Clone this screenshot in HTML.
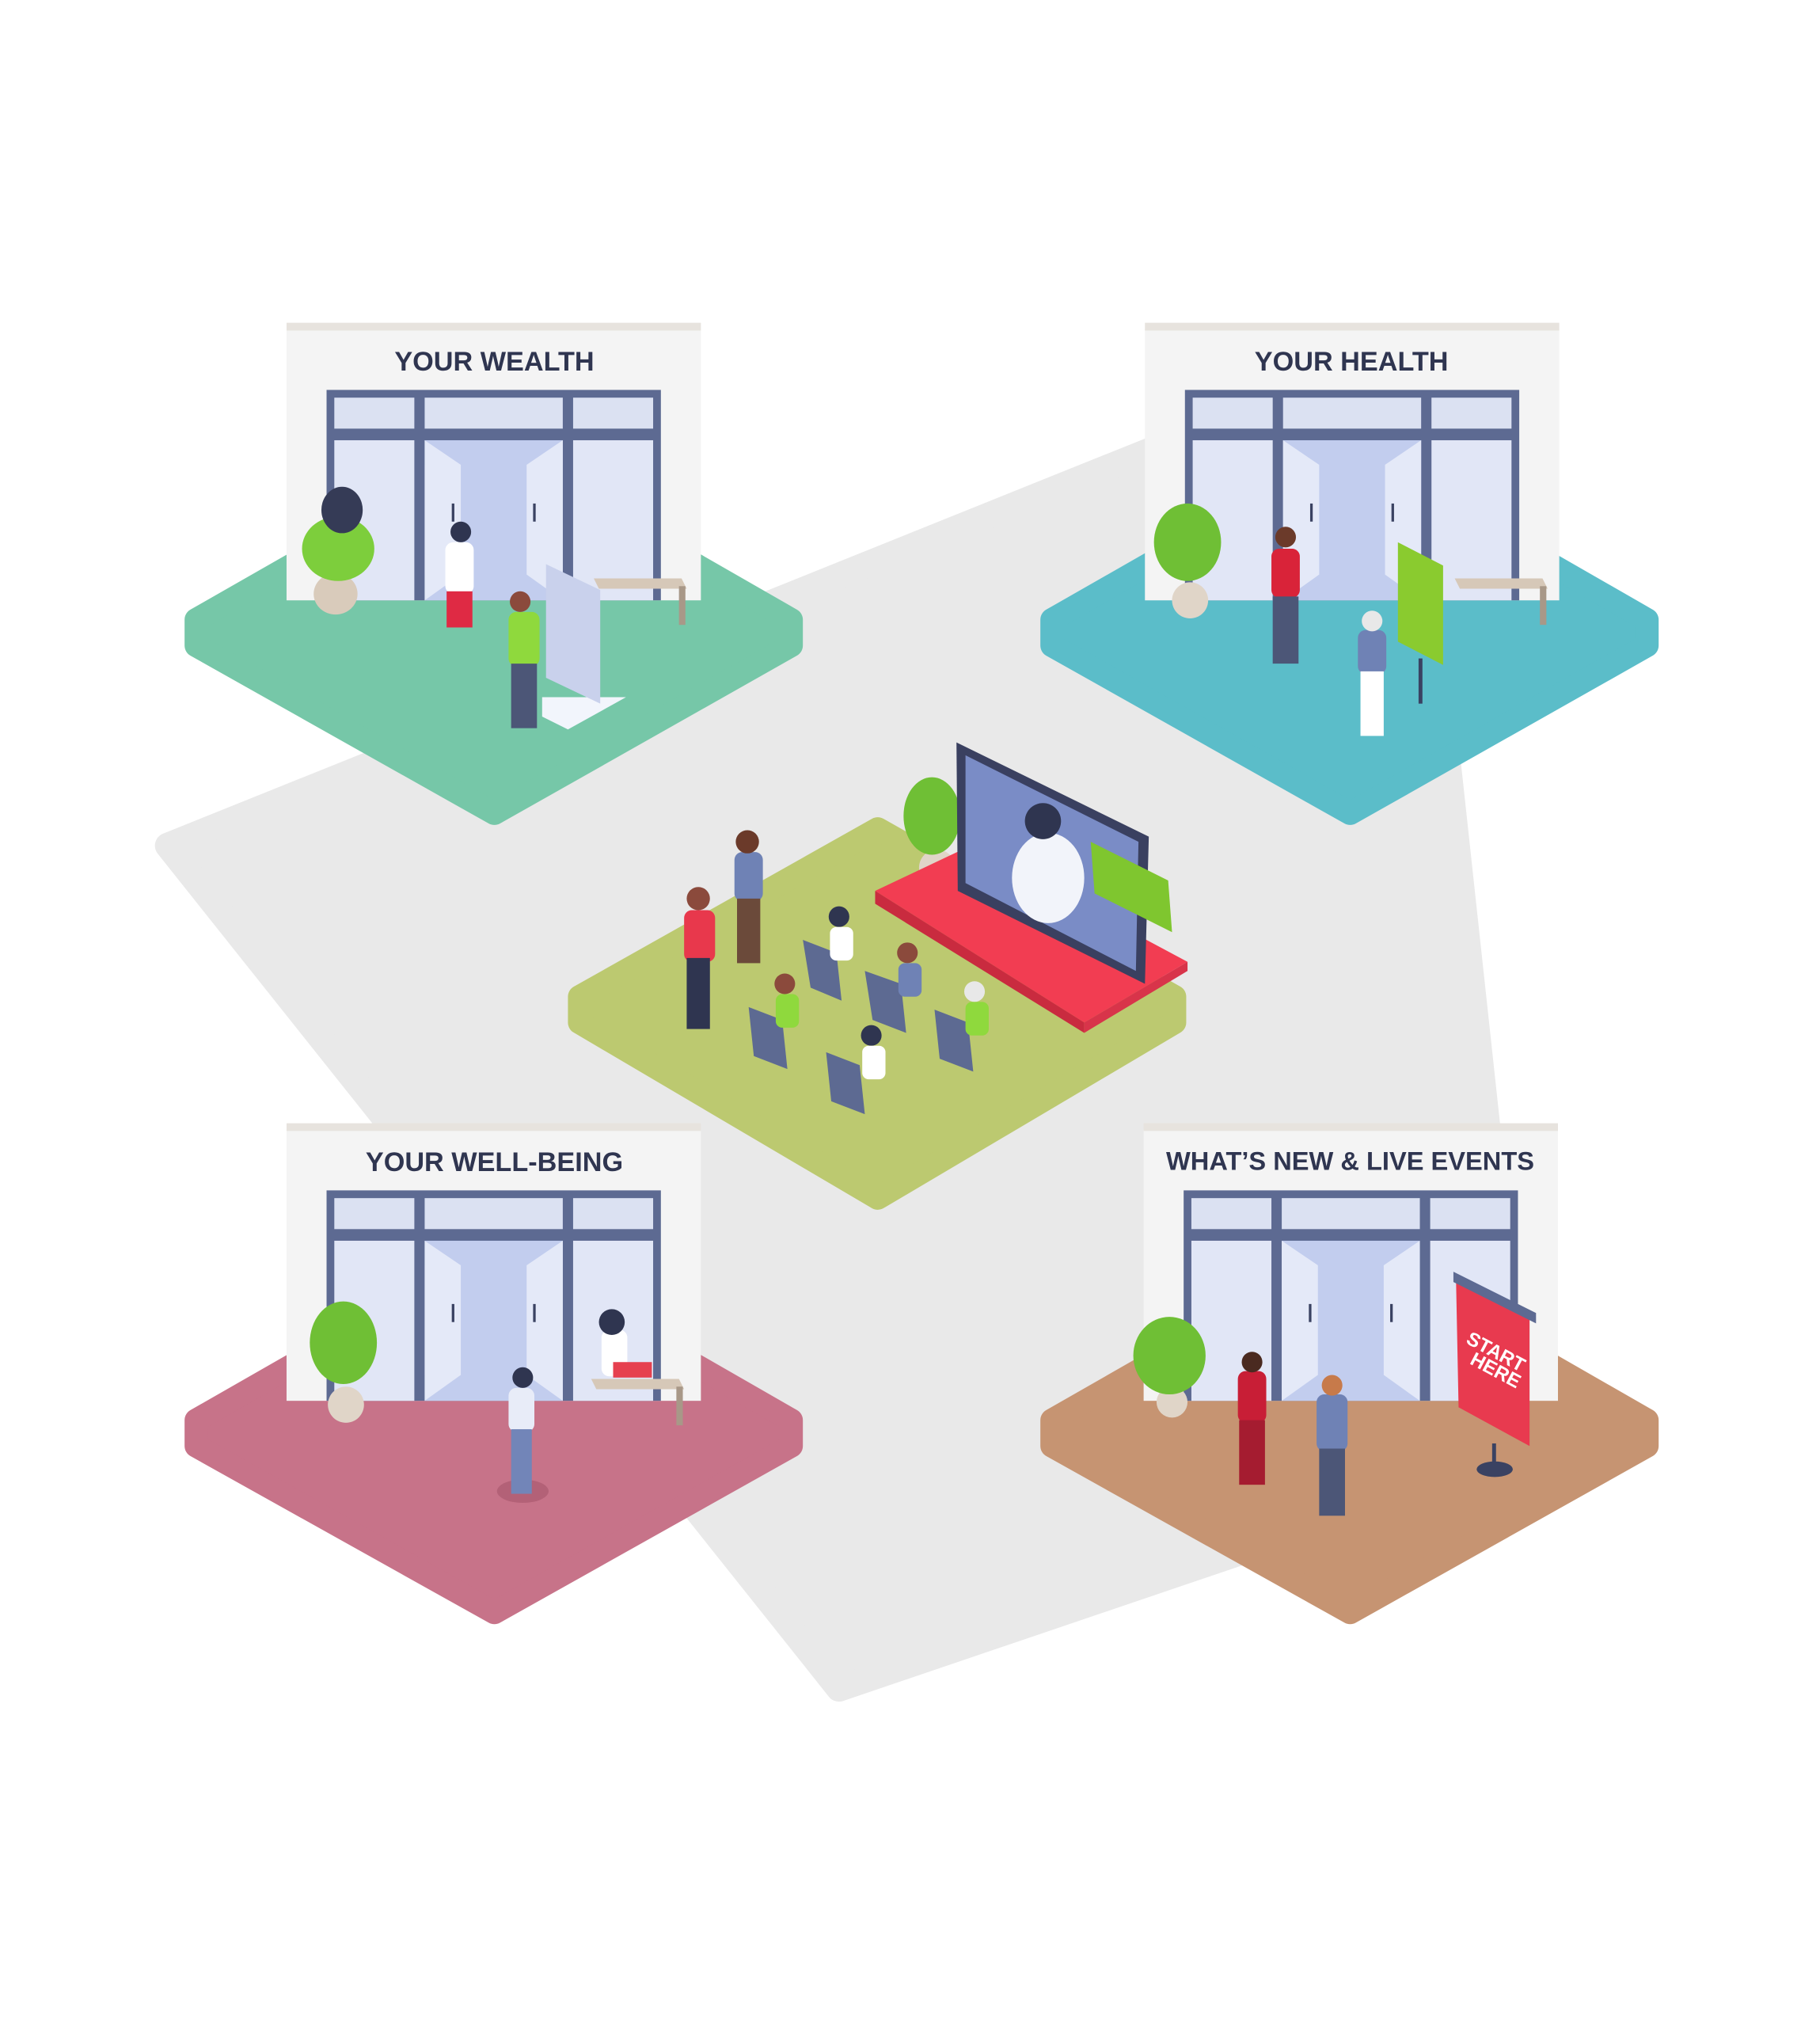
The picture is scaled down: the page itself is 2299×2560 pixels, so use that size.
<!DOCTYPE html>
<html><head><meta charset="utf-8"><style>html,body{margin:0;padding:0;background:#fff}svg{display:block}</style></head>
<body>
<svg width="2299" height="2560" viewBox="0 0 1410 1570" preserveAspectRatio="none" xmlns="http://www.w3.org/2000/svg">
<defs>
<g id="bld">
  <rect x="222" y="255" width="321" height="210" fill="#f4f4f4"/>
  <rect x="222" y="250" width="321" height="6" fill="#e7e3de"/>
  <rect x="253" y="302" width="259" height="163" fill="#5d6a92"/>
  <rect x="259" y="308" width="62" height="24" fill="#dbe1f2"/>
  <rect x="329" y="308" width="107" height="24" fill="#dbe1f2"/>
  <rect x="444" y="308" width="62" height="24" fill="#dbe1f2"/>
  <rect x="259" y="341" width="62" height="124" fill="#e1e6f6"/>
  <rect x="444" y="341" width="62" height="124" fill="#e1e6f6"/>
  <rect x="329" y="341" width="107" height="124" fill="#c2cdee"/>
  <polygon points="329,341 357,360 357,445 329,465" fill="#e4e9f8"/>
  <polygon points="436,341 408,360 408,445 436,465" fill="#e4e9f8"/>
  <rect x="350" y="390" width="2" height="14" fill="#3a4262"/>
  <rect x="413" y="390" width="2" height="14" fill="#3a4262"/>
</g>
</defs>
<!-- gray background -->
<polygon points="130,655 1087,270 1180,1128 650,1308" fill="#e9e9e9" stroke="#e9e9e9" stroke-width="20" stroke-linejoin="round"/>

<!-- tiles -->
<g stroke-linejoin="round" stroke-width="18">
<polygon points="383,348 613,480 613,500 383,630 152,500 152,480" fill="#76c7a8" stroke="#76c7a8"/>
<polygon points="1046,348 1276,480 1276,500 1046,630 815,500 815,480" fill="#5bbdc9" stroke="#5bbdc9"/>
<polygon points="383,968 613,1100 613,1120 383,1249 152,1120 152,1100" fill="#c77389" stroke="#c77389"/>
<polygon points="1046,968 1276,1100 1276,1120 1046,1249 815,1120 815,1100" fill="#c69472" stroke="#c69472"/>
<polygon points="680,642 910,772 910,792 680,928 449,792 449,772" fill="#bcc970" stroke="#bcc970"/>
</g>

<!-- buildings -->
<use href="#bld"/>
<use href="#bld" transform="translate(665,0)"/>
<use href="#bld" transform="translate(0,620)"/>
<use href="#bld" transform="translate(664,620)"/>
<g font-family="Liberation Sans, sans-serif" font-weight="bold" fill="#2f3550" text-anchor="middle">
<text x="383" y="287" font-size="21">YOUR WEALTH</text>
<text x="1047" y="287" font-size="21">YOUR HEALTH</text>
<text x="383" y="907" font-size="21">YOUR WELL-BEING</text>
<text x="1046" y="906" font-size="20">WHAT’S NEW &amp; LIVE EVENTS</text>
</g>

<!-- benches -->
<g fill="#d6c8b8">
<polygon points="460,448 528,448 532,456 464,456"/><rect x="526" y="454" width="5" height="30" fill="#a89888"/>
<polygon points="1127,448 1195,448 1199,456 1131,456"/><rect x="1193" y="454" width="5" height="30" fill="#a89888"/>
<polygon points="458,1068 526,1068 530,1076 462,1076"/><rect x="524" y="1074" width="5" height="30" fill="#a89888"/>
</g>

<!-- plants -->
<g>
<ellipse cx="260" cy="460" rx="17" ry="16" fill="#d9cbbb"/><ellipse cx="262" cy="425" rx="28" ry="25" fill="#7dce3c"/><ellipse cx="265" cy="395" rx="16" ry="18" fill="#353b56"/>
<ellipse cx="922" cy="465" rx="14" ry="14" fill="#e0d5c8"/><ellipse cx="920" cy="420" rx="26" ry="30" fill="#6fbf35"/>
<ellipse cx="268" cy="1088" rx="14" ry="14" fill="#e0d5c8"/><ellipse cx="266" cy="1040" rx="26" ry="32" fill="#6fbf35"/>
<ellipse cx="908" cy="1086" rx="12" ry="12" fill="#e0d5c8"/><ellipse cx="906" cy="1050" rx="28" ry="30" fill="#6fbf35"/>
<ellipse cx="726" cy="672" rx="14" ry="14" fill="#e0d5c8"/><ellipse cx="722" cy="632" rx="22" ry="30" fill="#6fbf35"/>
</g>

<!-- wealth people & board -->
<polygon points="420,540 485,540 440,565 420,555" fill="#f2f5fc"/>
<polygon points="423,437 465,457 465,545 423,525" fill="#c9d1ec"/>
<rect x="345" y="420" width="22" height="40" rx="6" fill="#fff"/><rect x="346" y="458" width="20" height="28" fill="#df2a44"/><circle cx="357" cy="412" r="8" fill="#2f3550"/>
<rect x="394" y="474" width="24" height="42" rx="6" fill="#8fd93d"/><rect x="396" y="514" width="20" height="50" fill="#4c5677"/><circle cx="403" cy="466" r="8" fill="#8b4a3c"/>

<!-- health people & banner -->
<polygon points="1083,420 1118,438 1118,515 1083,497" fill="#8acb2f"/><rect x="1099" y="510" width="3" height="35" fill="#3a4262"/>
<rect x="985" y="425" width="22" height="38" rx="6" fill="#d92339"/><rect x="986" y="462" width="20" height="52" fill="#4c5677"/><circle cx="996" cy="416" r="8" fill="#6b3a2a"/>
<rect x="1052" y="488" width="22" height="34" rx="6" fill="#6f82b5"/><rect x="1054" y="520" width="18" height="50" fill="#fff"/><circle cx="1063" cy="481" r="8" fill="#e8e8e8"/>

<!-- wellbeing people -->
<ellipse cx="405" cy="1155" rx="20" ry="9" fill="#b36177"/>
<rect x="394" y="1075" width="20" height="34" rx="6" fill="#e8ecf8"/><rect x="396" y="1107" width="16" height="50" fill="#7285b8"/><circle cx="405" cy="1067" r="8" fill="#2f3550"/>
<rect x="466" y="1030" width="20" height="36" rx="6" fill="#fff"/><rect x="475" y="1055" width="30" height="12" fill="#e6404f"/><circle cx="474" cy="1024" r="10" fill="#2f3550"/>

<!-- what's new -->
<polygon points="1128,990 1185,1020 1185,1120 1130,1090" fill="#e83a4f"/>
<polygon points="1126,985 1190,1017 1190,1025 1126,993" fill="#5d6a92"/>
<text x="1135" y="1040" font-family="Liberation Sans, sans-serif" font-weight="bold" font-size="15" fill="#fff" transform="rotate(28 1135 1040)">START</text>
<text x="1138" y="1056" font-family="Liberation Sans, sans-serif" font-weight="bold" font-size="15" fill="#fff" transform="rotate(28 1138 1056)">HERE</text>
<rect x="1156" y="1118" width="3" height="20" fill="#3a4262"/><ellipse cx="1158" cy="1138" rx="14" ry="6" fill="#3a4262"/>
<rect x="959" y="1062" width="22" height="40" rx="6" fill="#c81e36"/><rect x="960" y="1100" width="20" height="50" fill="#a51c30"/><circle cx="970" cy="1055" r="8" fill="#4a2a20"/>
<rect x="1020" y="1080" width="24" height="44" rx="6" fill="#6f82b5"/><rect x="1022" y="1122" width="20" height="52" fill="#4c5677"/><circle cx="1032" cy="1073" r="8" fill="#c77a4a"/>

<!-- center stage -->
<polygon points="678,690 752,655 920,745 840,792" fill="#f23d52"/>
<polygon points="678,690 840,792 840,800 678,700" fill="#c92b3f"/>
<polygon points="840,792 920,745 920,752 840,800" fill="#d8344a"/>
<polygon points="741,575 890,648 887,762 742,690" fill="#3a4060"/>
<polygon points="748,585 882,652 880,752 748,684" fill="#7a8cc6"/>
<ellipse cx="812" cy="680" rx="28" ry="35" fill="#f2f4fa"/><circle cx="808" cy="636" r="14" fill="#2f3550"/>
<polygon points="845,652 905,682 908,722 848,692" fill="#7fc62f"/>
<!-- standing people -->
<rect x="530" y="705" width="24" height="40" rx="6" fill="#e8384c"/><rect x="532" y="742" width="18" height="55" fill="#2f3550"/><circle cx="541" cy="696" r="9" fill="#8b4a3c"/>
<rect x="569" y="660" width="22" height="38" rx="6" fill="#6f82b5"/><rect x="571" y="696" width="18" height="50" fill="#6b4a3a"/><circle cx="579" cy="652" r="9" fill="#6b3a2a"/>
<!-- chairs -->
<g fill="#5d6a92">
<polygon points="622,728 648,738 652,775 628,765"/><polygon points="670,752 698,762 702,800 676,790"/><polygon points="724,782 750,792 754,830 728,820"/>
<polygon points="580,780 606,790 610,828 584,818"/><polygon points="640,815 666,825 670,863 644,853"/>
</g>
<g>
<circle cx="650" cy="710" r="8" fill="#2f3550"/><rect x="643" y="718" width="18" height="26" rx="5" fill="#fff"/>
<circle cx="703" cy="738" r="8" fill="#8b4a3c"/><rect x="696" y="746" width="18" height="26" rx="5" fill="#6f82b5"/>
<circle cx="755" cy="768" r="8" fill="#e8e8e8"/><rect x="748" y="776" width="18" height="26" rx="5" fill="#8fd93d"/>
<circle cx="608" cy="762" r="8" fill="#8b4a3c"/><rect x="601" y="770" width="18" height="26" rx="5" fill="#8fd93d"/>
<circle cx="675" cy="802" r="8" fill="#2f3550"/><rect x="668" y="810" width="18" height="26" rx="5" fill="#fff"/>
</g>
</svg>
</body></html>
